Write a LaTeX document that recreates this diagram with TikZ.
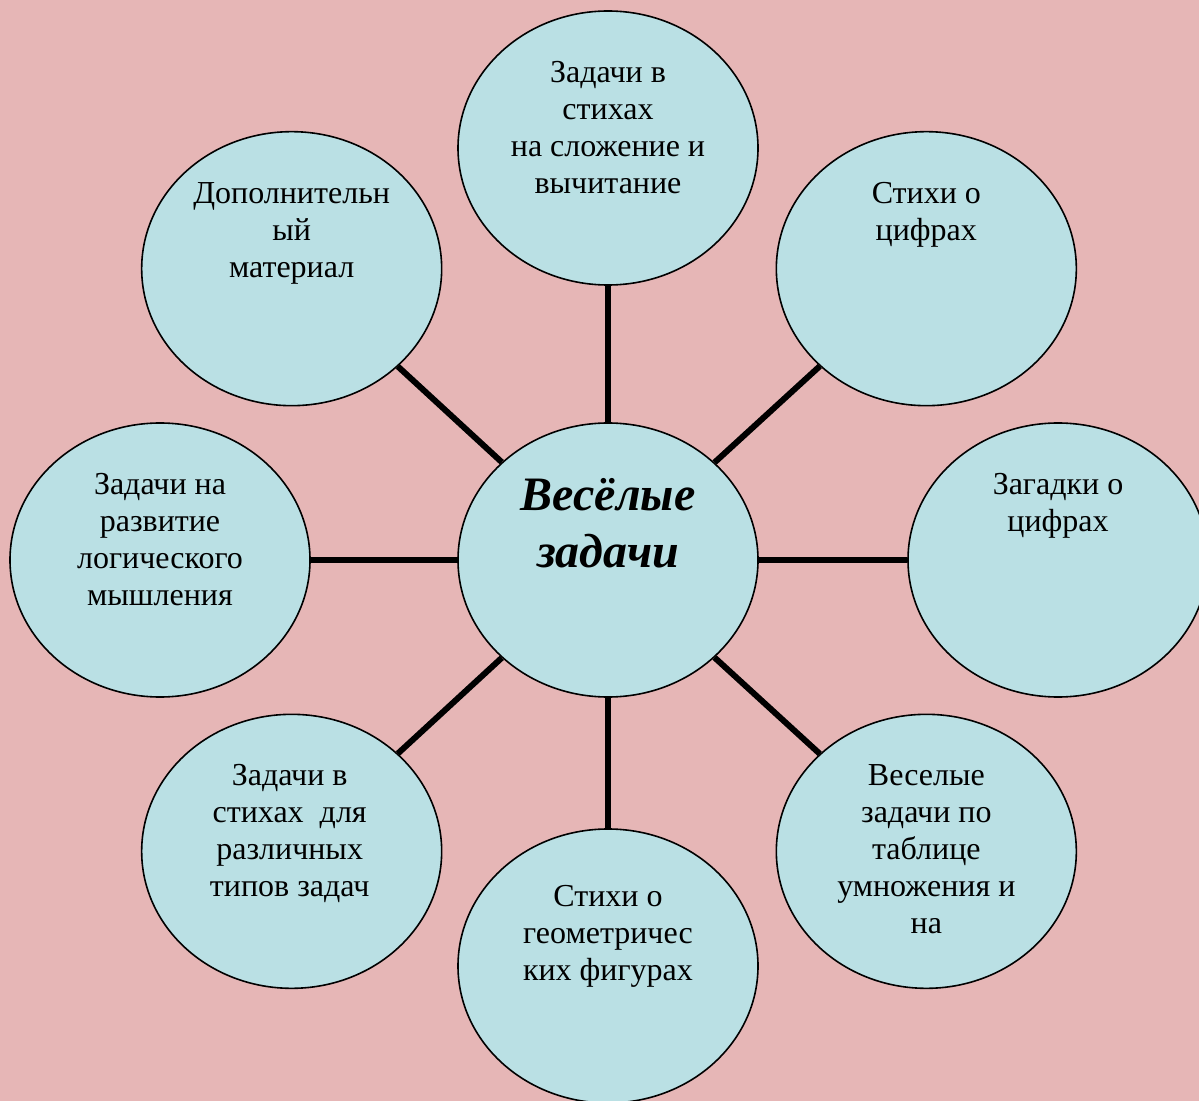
\documentclass[tikz,border=0pt]{standalone}
\usepackage{fontspec}
\setmainfont{Liberation Serif}
\usepackage{tikz}
\usetikzlibrary{shapes.geometric}
\definecolor{bgpink}{HTML}{E6B6B6}
\definecolor{bubblefill}{HTML}{BAE0E4}
\tikzstyle{bubble} = [ellipse, minimum width=150pt, minimum height=137pt, inner sep=0pt, draw=black, line width=0.8pt, fill=bubblefill]
\tikzstyle{txt}    = [anchor=north, yshift=43.5pt, align=center, inner sep=0pt, font=\fontsize{16pt}{18.5pt}\selectfont]
\tikzstyle{title}  = [anchor=north, yshift=41pt, align=center, inner sep=0pt, font=\fontsize{24pt}{28.5pt}\selectfont\bfseries\itshape]
\tikzstyle{spoke}  = [line width=3pt, draw=black]

\begin{document}
\begin{tikzpicture}[x=0.5pt, y=-0.5pt, node distance=206pt]

    \path[use as bounding box, fill=bgpink] (0,0) rectangle (1199,1101);
    \clip (0,0) rectangle (1199,1101);

    \node (hub)    [bubble] at (608,560) {};
    \node (top)    [bubble, above of=hub]                      {};
    \node (tleft)  [bubble, above left of=hub, xshift=-12.5pt]  {};
    \node (tright) [bubble, above right of=hub, xshift=13.5pt]  {};
    \node (left)   [bubble, left of=hub, xshift=-18pt]          {};
    \node (right)  [bubble, right of=hub, xshift=19pt]          {};
    \node (bleft)  [bubble, below left of=hub, xshift=-12.5pt]  {};
    \node (bright) [bubble, below right of=hub, xshift=13.5pt]  {};
    \node (bottom) [bubble, below of=hub, yshift=3pt]           {};

    \draw [spoke] (hub) -- (top);
    \draw [spoke] (hub) -- (tleft);
    \draw [spoke] (hub) -- (tright);
    \draw [spoke] (hub) -- (left);
    \draw [spoke] (hub) -- (right);
    \draw [spoke] (hub) -- (bleft);
    \draw [spoke] (hub) -- (bright);
    \draw [spoke] (hub) -- (bottom);

    % texts
    \node (hubtxt)    [title] at (hub)    {Весёлые\\задачи};
    \node (toptxt)    [txt] at (top)      {Задачи в\\стихах\\на сложение и\\вычитание};
    \node (tlefttxt)  [txt] at (tleft)    {Дополнительн\\ый\\материал};
    \node (trighttxt) [txt] at (tright)   {Стихи о\\цифрах};
    \node (lefttxt)   [txt] at (left)     {Задачи на\\развитие\\логического\\мышления};
    \node (righttxt)  [txt] at (right)    {Загадки о\\цифрах};
    \node (blefttxt)  [txt, xshift=-1pt] at (bleft) {Задачи в\\стихах~ для\\различных\\типов задач};
    \node (brighttxt) [txt] at (bright)   {Веселые\\задачи по\\таблице\\умножения и\\на};
    \node (bottomtxt) [txt, yshift=-3pt] at (bottom) {Стихи о\\геометричес\\ких фигурах};

\end{tikzpicture}
\end{document}
